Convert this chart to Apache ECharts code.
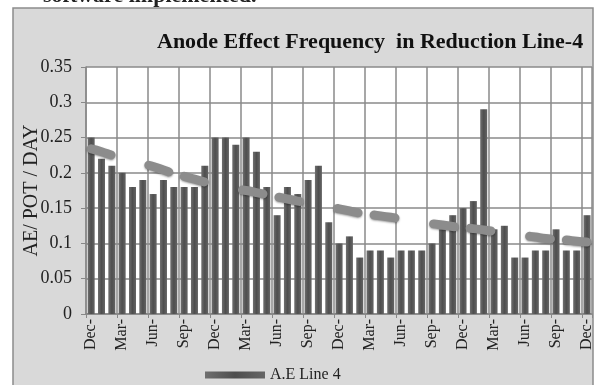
<!DOCTYPE html>
<html>
<head>
<meta charset="utf-8">
<script src="https://cdn.jsdelivr.net/npm/echarts@6/dist/echarts.min.js"></script>
<style>
html,body{margin:0;padding:0;background:#fff;}
#chart{width:595px;height:385px;}
</style>
</head>
<body>
<div id="chart"></div>
<script>
// Month categories (Dec through Dec, 49 months)
var categories = [
  'Dec-','Jan-','Feb-','Mar-','Apr-','May-','Jun-','Jul-','Aug-','Sep-','Oct-','Nov-',
  'Dec-','Jan-','Feb-','Mar-','Apr-','May-','Jun-','Jul-','Aug-','Sep-','Oct-','Nov-',
  'Dec-','Jan-','Feb-','Mar-','Apr-','May-','Jun-','Jul-','Aug-','Sep-','Oct-','Nov-',
  'Dec-','Jan-','Feb-','Mar-','Apr-','May-','Jun-','Jul-','Aug-','Sep-','Oct-','Nov-',
  'Dec-'
];
// Anode effect frequency values (AE/POT/DAY)
var aeLine4 = [
  0.25,0.22,0.21,0.20,0.18,0.19,0.17,0.19,0.18,0.18,0.18,0.21,
  0.25,0.25,0.24,0.25,0.23,0.18,0.14,0.18,0.17,0.19,0.21,0.13,
  0.10,0.11,0.08,0.09,0.09,0.08,0.09,0.09,0.09,0.10,0.12,0.14,
  0.15,0.16,0.29,0.12,0.125,0.08,0.08,0.09,0.09,0.12,0.09,0.09,
  0.14
];
// Trend line values
var trend = [
  0.234,0.230,0.225,0.221,0.217,0.213,0.209,0.204,0.199,0.195,0.191,0.187,
  0.183,0.180,0.177,0.175,0.172,0.169,0.166,0.163,0.160,0.157,0.155,0.152,
  0.149,0.146,0.143,0.141,0.139,0.137,0.135,0.133,0.131,0.128,0.126,0.124,
  0.122,0.121,0.119,0.117,0.115,0.113,0.111,0.109,0.107,0.106,0.105,0.103,
  0.102
];
var yTicks = {min: 0, max: 0.35, interval: 0.05};
var titleText = 'Anode Effect Frequency  in Reduction Line-4';
var yName = 'AE/ POT / DAY';
var seriesName = 'A.E Line 4';

var serif = '"Liberation Serif", "DejaVu Serif", serif';
var chart = echarts.init(document.getElementById('chart'), null, {renderer: 'canvas'});
chart.setOption({
  backgroundColor: '#ffffff',
  animation: false,
  graphic: [
    {type: 'text', z: -20, left: 43, top: -15,
     style: {text: 'software implemented.', font: 'bold 22px ' + serif, fill: '#222'}},
    {type: 'rect', z: -10, shape: {x: 13, y: 8, width: 580, height: 380},
     style: {fill: '#d9d9d9', stroke: '#8c8c8c', lineWidth: 1.5}}
  ],
  title: {
    text: titleText,
    left: 152, top: 26,
    textStyle: {fontFamily: serif, fontWeight: 'bold', fontSize: 22, color: '#111'}
  },
  legend: {
    data: [seriesName],
    left: 200, top: 362,
    itemWidth: 60, itemHeight: 7, icon: 'rect', itemGap: 6,
    textStyle: {fontFamily: serif, fontSize: 16, color: '#222'}
  },
  grid: {
    left: 86, right: 2, top: 67, bottom: 71,
    show: true, backgroundColor: '#ffffff', borderWidth: 0
  },
  xAxis: {
    type: 'category',
    data: categories,
    boundaryGap: true,
    axisLine: {lineStyle: {color: '#888', width: 1.5}},
    axisTick: {show: true, interval: 2, length: 4, lineStyle: {color: '#888'}},
    axisLabel: {interval: 2, rotate: 90, fontFamily: serif, fontSize: 16, color: '#222', margin: 5},
    splitLine: {show: true, interval: 2, lineStyle: {color: '#8a8a8a', width: 1.5}}
  },
  yAxis: {
    type: 'value',
    min: yTicks.min, max: yTicks.max, interval: yTicks.interval,
    name: yName, nameLocation: 'middle', nameGap: 44, nameRotate: 90,
    nameMoveOverlap: false,
    nameTextStyle: {fontFamily: serif, fontSize: 20, color: '#222'},
    axisLine: {show: true, lineStyle: {color: '#888', width: 1.5}},
    axisTick: {show: true, length: 5, lineStyle: {color: '#888'}},
    axisLabel: {fontFamily: serif, fontSize: 18, color: '#222', margin: 14,
      formatter: function (v) { return String(+v.toFixed(2)); }},
    splitLine: {show: true, lineStyle: {color: '#8a8a8a', width: 1.5}}
  },
  series: [
    {
      name: seriesName,
      type: 'bar',
      data: aeLine4,
      barWidth: 7,
      itemStyle: {
        color: new echarts.graphic.LinearGradient(0, 0, 1, 0, [
          {offset: 0, color: '#6f6f6f'},
          {offset: 0.5, color: '#4e4e4e'},
          {offset: 1, color: '#656565'}
        ])
      },
      z: 2
    },
    {
      name: 'trend',
      type: 'line',
      data: trend,
      symbol: 'none',
      smooth: true,
      lineStyle: {
        color: '#8c8c8c', width: 9, cap: 'round',
        type: [21, 39, 21, 16],
        shadowColor: 'rgba(0,0,0,0.35)', shadowBlur: 2, shadowOffsetY: 1
      },
      z: 3
    }
  ]
});
</script>
</body>
</html>
